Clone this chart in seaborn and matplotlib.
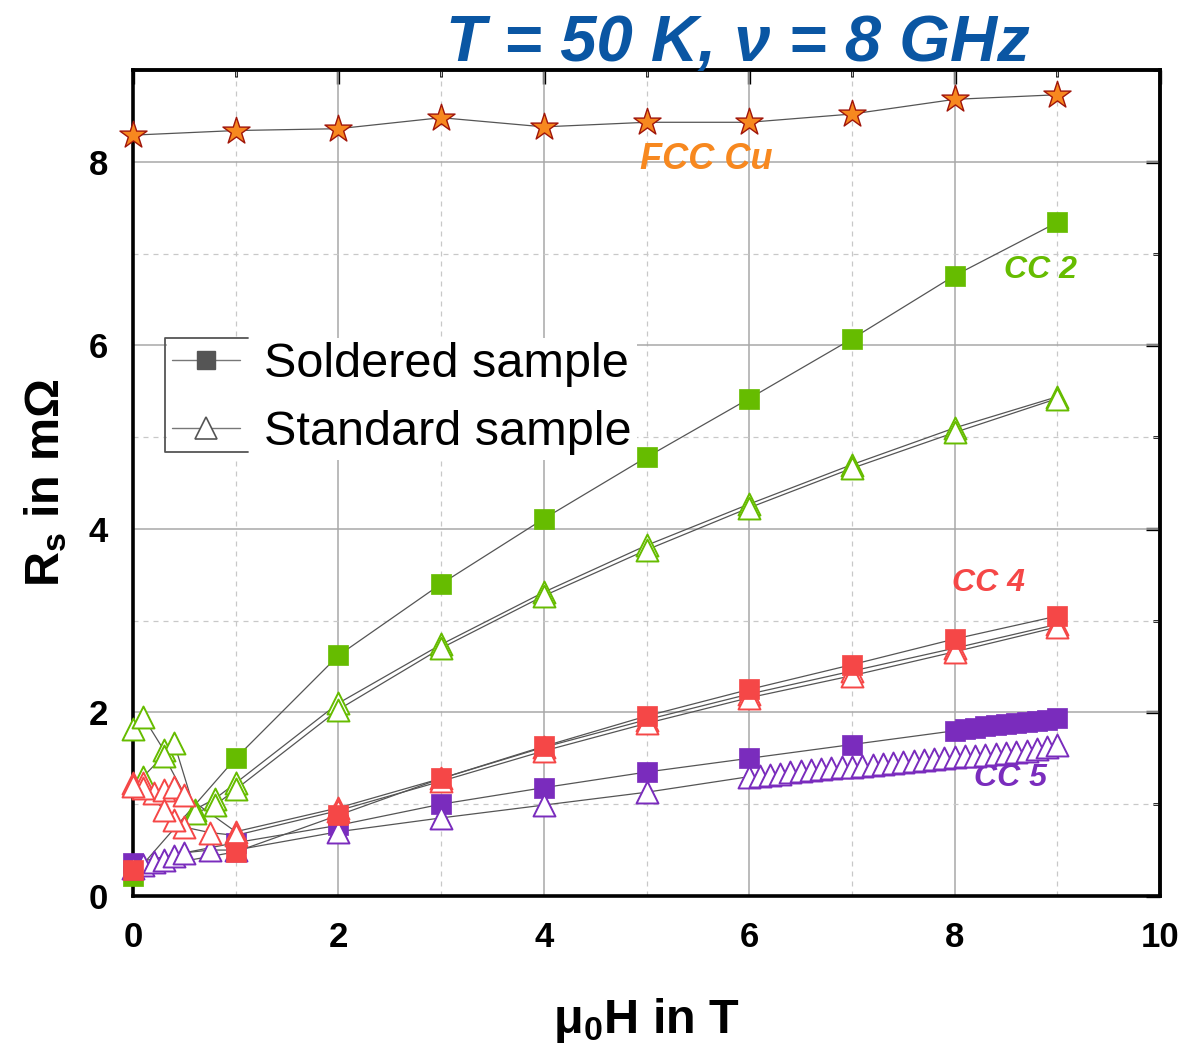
import matplotlib
matplotlib.use("Agg")
import matplotlib.pyplot as plt
from matplotlib.lines import Line2D
from matplotlib.ticker import MultipleLocator
import seaborn as sns

# ---------------- data ----------------
cu_x = [0, 1, 2, 3, 4, 5, 6, 7, 8, 9]
cu_y = [8.29, 8.34, 8.36, 8.48, 8.38, 8.43, 8.43, 8.52, 8.68, 8.73]

cc2_sol_x = [0, 1, 2, 3, 4, 5, 6, 7, 8, 9]
cc2_sol_y = [0.22, 1.50, 2.62, 3.40, 4.11, 4.78, 5.42, 6.07, 6.76, 7.34]

cc2_std_up_x = [0, 0.1, 0.3, 0.4, 0.6, 0.8, 1, 2, 3, 4, 5, 6, 7, 8, 9]
cc2_std_up_y = [1.82, 1.95, 1.59, 1.67, 0.94, 1.06, 1.23, 2.10, 2.74, 3.31, 3.82, 4.27, 4.70, 5.10, 5.44]
cc2_std_dn_x = [9, 8, 7, 6, 5, 4, 3, 2, 1, 0.8, 0.6, 0.3, 0.1]
cc2_std_dn_y = [5.42, 5.05, 4.66, 4.23, 3.77, 3.27, 2.70, 2.03, 1.16, 0.99, 0.90, 1.53, 1.30]

cc4_sol_x = [0, 1, 2, 3, 4, 5, 6, 7, 8, 9]
cc4_sol_y = [0.28, 0.48, 0.88, 1.28, 1.63, 1.96, 2.25, 2.52, 2.80, 3.05]

cc4_std_up_x = [0, 0.1, 0.2, 0.3, 0.4, 0.5, 1, 2, 3, 4, 5, 6, 7, 8, 9]
cc4_std_up_y = [1.23, 1.23, 1.12, 1.15, 1.19, 1.10, 0.70, 0.96, 1.28, 1.62, 1.92, 2.20, 2.45, 2.70, 2.96]
cc4_std_dn_x = [9, 8, 7, 6, 5, 4, 3, 2, 1, 0.75, 0.5, 0.4, 0.3, 0.1, 0]
cc4_std_dn_y = [2.93, 2.66, 2.40, 2.16, 1.88, 1.58, 1.25, 0.93, 0.66, 0.69, 0.75, 0.83, 0.94, 1.18, 1.20]

cc5_sol_x = [0, 1, 2, 3, 4, 5, 6, 7, 8, 8.1, 8.2, 8.3, 8.4, 8.5, 8.6, 8.7, 8.8, 8.9, 9.0]
cc5_sol_y = [0.36, 0.58, 0.77, 1.00, 1.18, 1.35, 1.50, 1.65, 1.80, 1.82, 1.83, 1.85, 1.86, 1.87,
             1.88, 1.90, 1.91, 1.92, 1.94]

cc5_std_x = [0, 0.1, 0.2, 0.3, 0.4, 0.5, 0.75, 1, 2, 3, 4, 5,
             6.0, 6.1, 6.2, 6.3, 6.4, 6.5, 6.6, 6.7, 6.8, 6.9,
             7.0, 7.1, 7.2, 7.3, 7.4, 7.5, 7.6, 7.7, 7.8, 7.9,
             8.0, 8.1, 8.2, 8.3, 8.4, 8.5, 8.6, 8.7, 8.8, 8.9, 9.0]
cc5_std_y = [0.30, 0.34, 0.37, 0.39, 0.43, 0.47, 0.50, 0.50, 0.70, 0.85, 0.99, 1.13,
             1.30, 1.31, 1.32, 1.33, 1.35, 1.36, 1.37, 1.38, 1.39, 1.40,
             1.41, 1.42, 1.43, 1.44, 1.45, 1.46, 1.47, 1.48, 1.49, 1.50,
             1.51, 1.52, 1.53, 1.54, 1.55, 1.56, 1.57, 1.58, 1.60, 1.62, 1.65]

x_ticks = [0, 2, 4, 6, 8, 10]
y_ticks = [0, 2, 4, 6, 8]

GREEN = "#66BC00"
RED = "#F54747"
PURPLE = "#7A2CBD"
ORANGE = "#F7881F"
BLUE = "#0A56A3"
LINE = "#555555"

# ---------------- style ----------------
sns.set_theme(style="white")
plt.rcParams["font.family"] = ["Liberation Sans", "DejaVu Sans"]
plt.rcParams["text.color"] = "black"
plt.rcParams["axes.labelcolor"] = "black"
plt.rcParams["xtick.color"] = "black"
plt.rcParams["ytick.color"] = "black"
plt.rcParams["mathtext.fontset"] = "custom"
plt.rcParams["mathtext.rm"] = "Liberation Sans:bold"
plt.rcParams["mathtext.bf"] = "Liberation Sans:bold"
plt.rcParams["mathtext.it"] = "Liberation Sans:italic:bold"

fig = plt.figure(figsize=(11.85, 10.49), dpi=100)
ax = fig.add_axes([0.1122, 0.1459, 0.8668, 0.7874])

# grid
ax.set_axisbelow(True)
ax.xaxis.set_major_locator(MultipleLocator(2))
ax.xaxis.set_minor_locator(MultipleLocator(1))
ax.yaxis.set_major_locator(MultipleLocator(2))
ax.yaxis.set_minor_locator(MultipleLocator(1))
ax.grid(which="major", color="#A8A8A8", lw=1.1, ls="-")
ax.grid(which="minor", color="#C8C8C8", lw=0.9, ls=(0, (4, 4)))


def curve(x, y):
    sns.lineplot(x=x, y=y, sort=False, estimator=None, color=LINE, lw=0.9, ax=ax,
                 legend=False, zorder=2)


def squares(x, y, c, z=3):
    sns.scatterplot(x=x, y=y, marker="s", s=210, color=c, edgecolor=c, linewidth=0.5,
                    ax=ax, legend=False, zorder=z, clip_on=False)


def triangles(x, y, c, z=4):
    sns.scatterplot(x=x, y=y, marker="^", s=250, facecolor="white", edgecolor=c,
                    linewidth=1.4, ax=ax, legend=False, zorder=z, clip_on=False)


# lines
for xs, ys in [(cu_x, cu_y), (cc2_sol_x, cc2_sol_y), (cc2_std_up_x, cc2_std_up_y),
               (cc2_std_dn_x, cc2_std_dn_y), (cc4_sol_x, cc4_sol_y),
               (cc4_std_up_x, cc4_std_up_y), (cc4_std_dn_x, cc4_std_dn_y),
               (cc5_sol_x, cc5_sol_y), (cc5_std_x, cc5_std_y)]:
    curve(xs, ys)

# markers
triangles(cc2_std_up_x, cc2_std_up_y, GREEN)
triangles(cc2_std_dn_x, cc2_std_dn_y, GREEN)
squares(cc2_sol_x, cc2_sol_y, GREEN, 3)
squares(cc5_sol_x, cc5_sol_y, PURPLE, 3.1)
triangles(cc5_std_x, cc5_std_y, PURPLE, 4.1)
triangles(cc4_std_up_x, cc4_std_up_y, RED, 4.2)
triangles(cc4_std_dn_x, cc4_std_dn_y, RED, 4.2)
squares(cc4_sol_x, cc4_sol_y, RED, 4.3)
sns.scatterplot(x=cu_x, y=cu_y, marker="*", s=420, color=ORANGE, edgecolor="#A0150A",
                linewidth=1.0, ax=ax, legend=False, zorder=5, clip_on=False)

# axes
ax.set_xlim(0, 10)
ax.set_ylim(0, 9)
ax.set_xticks(x_ticks)
ax.set_yticks(y_ticks)
ax.set_xticklabels([str(v) for v in x_ticks], fontsize=25, fontweight="bold", color="black")
ax.set_yticklabels([str(v) for v in y_ticks], fontsize=25, fontweight="bold", color="black")
ax.tick_params(which="major", direction="out", length=10, width=2.4, pad=8, colors="black")
ax.tick_params(which="minor", direction="out", length=5, width=2.0, colors="black")
for sp in ax.spines.values():
    sp.set_linewidth(2.6)
    sp.set_color("black")

top = ax.secondary_xaxis("top")
top.xaxis.set_major_locator(MultipleLocator(2))
top.xaxis.set_minor_locator(MultipleLocator(1))
top.tick_params(which="major", direction="in", length=10, width=2.4, labeltop=False,
                colors="black")
top.tick_params(which="minor", direction="in", length=5, width=2.0, colors="black")
top.spines["top"].set_linewidth(2.6)
right = ax.secondary_yaxis("right")
right.yaxis.set_major_locator(MultipleLocator(2))
right.yaxis.set_minor_locator(MultipleLocator(1))
right.tick_params(which="major", direction="in", length=10, width=2.4, labelright=False,
                  colors="black")
right.tick_params(which="minor", direction="in", length=5, width=2.0, colors="black")
right.spines["right"].set_linewidth(2.6)

ax.set_xlabel(r"$\mathrm{\mu_0}$H in T", fontsize=35, fontweight="bold", labelpad=30,
              color="black")
ax.set_ylabel(r"R$_\mathrm{s}$ in m$\mathrm{\Omega}$", fontsize=35,
              fontweight="bold", labelpad=14, color="black")

# annotations
ax.text(5.58, 8.02, "FCC Cu", color=ORANGE, fontsize=26, fontweight="bold",
        fontstyle="italic", ha="center", va="center")
ax.text(8.83, 6.82, "CC 2", color=GREEN, fontsize=23, fontweight="bold",
        fontstyle="italic", ha="center", va="center")
ax.text(8.33, 3.41, "CC 4", color=RED, fontsize=23, fontweight="bold",
        fontstyle="italic", ha="center", va="center")
ax.text(8.54, 1.29, "CC 5", color=PURPLE, fontsize=23, fontweight="bold",
        fontstyle="italic", ha="center", va="center")

fig.text(0.623, 0.958, "T = 50 K, ν = 8 GHz", color=BLUE, fontsize=47,
         fontweight="bold", fontstyle="italic", ha="center", va="center")

# legend
handles = [
    Line2D([], [], color="#777777", lw=1.0, marker="s", ms=13, mfc="#555555", mec="#555555"),
    Line2D([], [], color="#777777", lw=1.0, marker="^", ms=16, mfc="white", mec="#555555",
           mew=1.2),
]
leg = ax.legend(handles, ["Soldered sample", "Standard sample"], loc="upper left",
                bbox_to_anchor=(0.033, 0.676), fontsize=35, frameon=True, fancybox=False,
                edgecolor="white", facecolor="white", framealpha=1, handlelength=1.4,
                handletextpad=0.5, labelspacing=0.46, borderpad=0.1, borderaxespad=0,
                labelcolor="black")
leg.get_frame().set_linewidth(0)
leg.set_zorder(10)

# partial legend frame (only visible around the handles)
frame_x = [0.112, 0.0312, 0.0312, 0.112]
frame_y = [0.6755, 0.6755, 0.5375, 0.5375]
ax.add_line(Line2D(frame_x, frame_y, transform=ax.transAxes, color="#555555", lw=1.3,
                   zorder=11, clip_on=False))

fig.savefig("out.png", dpi=100)
